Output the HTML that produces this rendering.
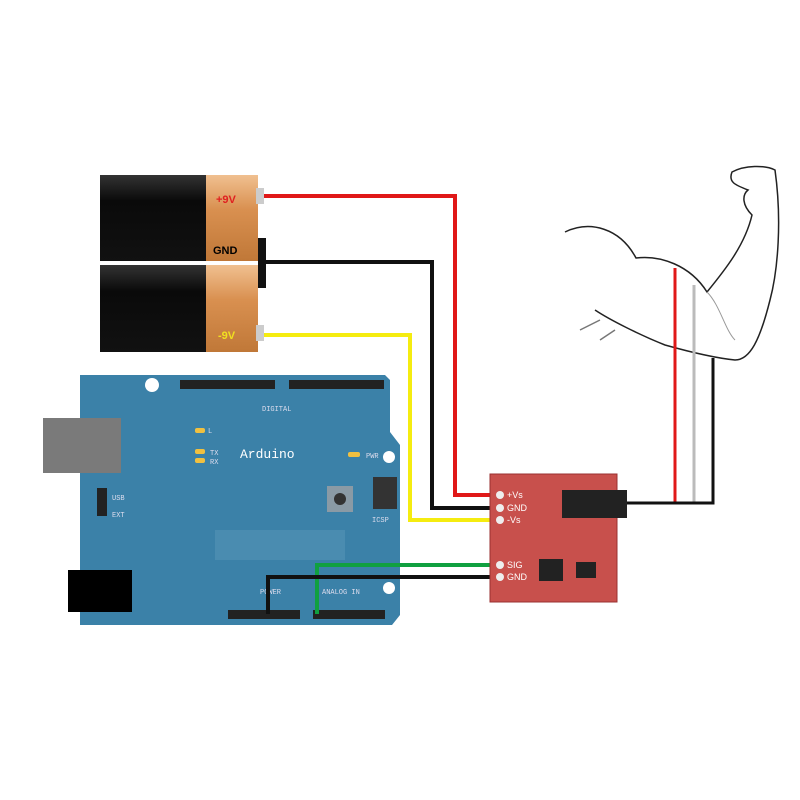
<!DOCTYPE html>
<html><head><meta charset="utf-8"><style>
html,body{margin:0;padding:0;background:#fff}
svg{display:block;font-family:"Liberation Mono",monospace}
</style></head><body>
<svg width="800" height="800" viewBox="0 0 800 800">
<defs>
<linearGradient id="bk" x1="0" y1="0" x2="0" y2="1"><stop offset="0" stop-color="#333"/><stop offset="0.3" stop-color="#0a0a0a"/><stop offset="1" stop-color="#111"/></linearGradient>
<linearGradient id="or" x1="0" y1="0" x2="0" y2="1"><stop offset="0" stop-color="#f0c090"/><stop offset="0.4" stop-color="#d99050"/><stop offset="1" stop-color="#c07838"/></linearGradient>
</defs>
<rect width="800" height="800" fill="#fff"/>
<g>
<path d="M80 375 H385 L390 380 V432 L400 445 V615 L392 625 H80 Z" fill="#3b81a8"/>
<circle cx="152" cy="385" r="7" fill="#fff"/>
<circle cx="389" cy="457" r="6" fill="#fff"/>
<circle cx="389" cy="588" r="6" fill="#fff"/>
<rect x="43" y="418" width="78" height="55" fill="#7a7a7a"/>
<rect x="68" y="570" width="64" height="42" fill="#000"/>
<rect x="180" y="380" width="95" height="9" fill="#222"/>
<rect x="289" y="380" width="95" height="9" fill="#222"/>
<rect x="228" y="610" width="72" height="9" fill="#222"/>
<rect x="313" y="610" width="72" height="9" fill="#222"/>
<rect x="215" y="530" width="130" height="30" fill="#4a8cb0"/>
<rect x="327" y="486" width="26" height="26" fill="#8a9aa5"/>
<circle cx="340" cy="499" r="6" fill="#333"/>
<rect x="373" y="477" width="24" height="32" fill="#333"/>
<rect x="97" y="488" width="10" height="28" fill="#222"/>
<rect x="195" y="428" width="10" height="5" rx="2" fill="#f0c040"/>
<rect x="195" y="449" width="10" height="5" rx="2" fill="#f0c040"/>
<rect x="195" y="458" width="10" height="5" rx="2" fill="#f0c040"/>
<rect x="348" y="452" width="12" height="5" rx="2" fill="#f0c040"/>
<text x="240" y="458" font-size="13" fill="#fff">Arduino</text>
<text x="262" y="411" font-size="7" fill="#dde">DIGITAL</text>
<text x="208" y="433" font-size="7" fill="#dde">L</text>
<text x="210" y="455" font-size="7" fill="#dde">TX</text>
<text x="210" y="464" font-size="7" fill="#dde">RX</text>
<text x="366" y="458" font-size="7" fill="#dde">PWR</text>
<text x="112" y="500" font-size="7" fill="#dde">USB</text>
<text x="112" y="517" font-size="7" fill="#dde">EXT</text>
<text x="372" y="522" font-size="7" fill="#dde">ICSP</text>
<text x="322" y="594" font-size="7" fill="#dde">ANALOG IN</text>
<text x="260" y="594" font-size="7" fill="#dde">POWER</text>
</g>
<g>
<rect x="100" y="175" width="108" height="86" fill="url(#bk)"/>
<rect x="206" y="175" width="52" height="86" fill="url(#or)"/>
<rect x="256" y="188" width="8" height="16" fill="#ccc"/>
<text x="216" y="203" font-size="11" font-weight="bold" fill="#e02020" font-family="Liberation Sans,sans-serif">+9V</text>
<text x="213" y="254" font-size="11" font-weight="bold" fill="#000" font-family="Liberation Sans,sans-serif">GND</text>
</g>
<g>
<rect x="100" y="265" width="108" height="87" fill="url(#bk)"/>
<rect x="206" y="265" width="52" height="87" fill="url(#or)"/>
<rect x="256" y="325" width="8" height="16" fill="#ccc"/>
<text x="218" y="339" font-size="11" font-weight="bold" fill="#f0e020" font-family="Liberation Sans,sans-serif">-9V</text>
</g>
<rect x="258" y="238" width="8" height="50" fill="#111"/>
<polyline points="264,196 455,196 455,495 495,495" fill="none" stroke="#e01818" stroke-width="4"/>
<polyline points="264,262 432,262 432,508 495,508" fill="none" stroke="#111" stroke-width="4"/>
<polyline points="264,335 410,335 410,520 495,520" fill="none" stroke="#f5ec10" stroke-width="4"/>
<polyline points="498,565 317,565 317,614" fill="none" stroke="#10a040" stroke-width="4"/>
<polyline points="498,577 268,577 268,614" fill="none" stroke="#111" stroke-width="4"/>
<g>
<rect x="490" y="474" width="127" height="128" fill="#c8504c" stroke="#9a3030"/>
<rect x="562" y="490" width="65" height="28" fill="#222"/>
<rect x="539" y="559" width="24" height="22" fill="#222"/>
<rect x="576" y="562" width="20" height="16" fill="#222"/>
<g fill="#eee"><circle cx="500" cy="495" r="4"/><circle cx="500" cy="508" r="4"/><circle cx="500" cy="520" r="4"/><circle cx="500" cy="565" r="4"/><circle cx="500" cy="577" r="4"/></g>
<g font-family="Liberation Sans,sans-serif" font-size="9" fill="#fff">
<text x="507" y="498">+Vs</text><text x="507" y="511">GND</text><text x="507" y="523">-Vs</text>
<text x="507" y="568">SIG</text><text x="507" y="580">GND</text></g>
</g>
<g fill="none" stroke="#222" stroke-width="1.5">
<path d="M565 232 C590 220 620 228 636 258 C660 255 690 265 707 292 C725 270 745 245 752 215 C742 205 742 195 748 190 C735 185 728 182 732 172 C745 165 765 165 775 170 C782 220 778 270 770 300 C760 340 750 360 735 360 C715 358 690 352 665 345 C640 335 610 320 595 310"/>
<path d="M600 340 L615 330 M580 330 L600 320" stroke="#777"/>
<path d="M707 292 C720 305 725 330 735 340" stroke="#999" stroke-width="1"/>
</g>
<line x1="675" y1="268" x2="675" y2="502" stroke="#e01818" stroke-width="3"/>
<line x1="694" y1="285" x2="694" y2="502" stroke="#bbb" stroke-width="3"/>
<polyline points="627,503 713,503 713,358" fill="none" stroke="#111" stroke-width="3"/>
</svg>
</body></html>
